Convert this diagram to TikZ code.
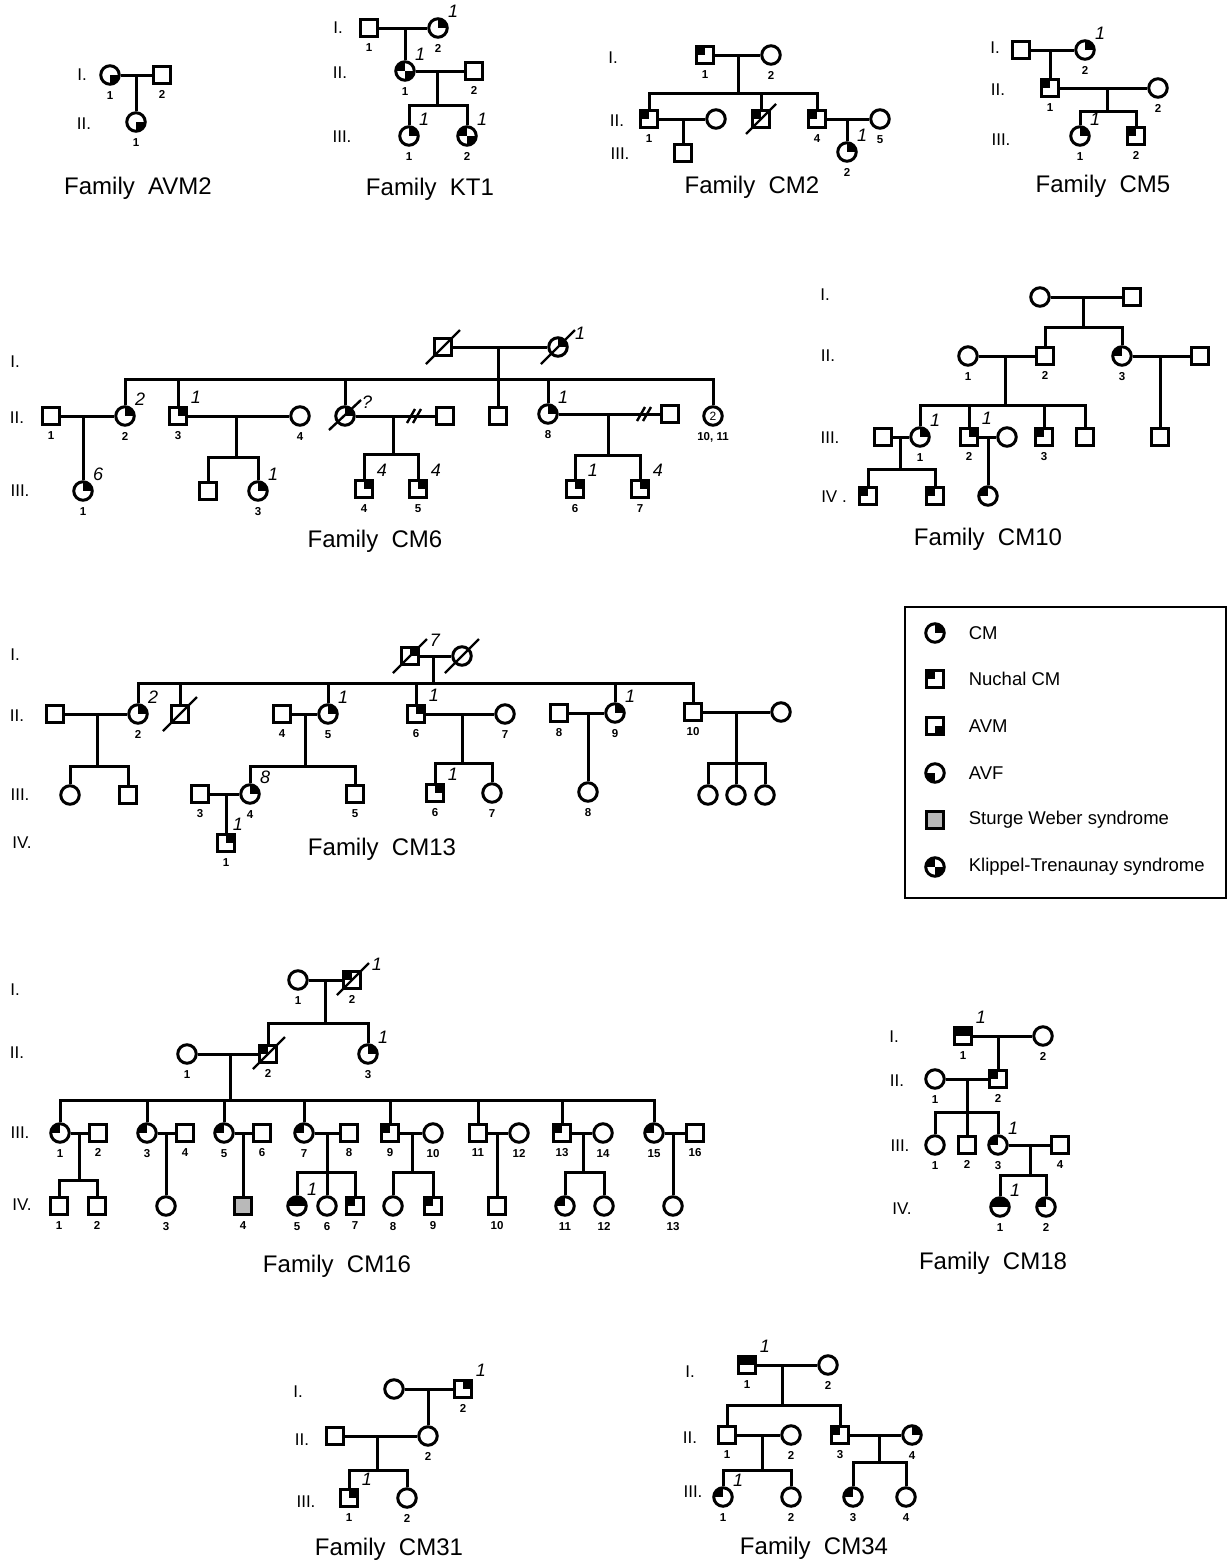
\documentclass[tikz,border=0pt]{standalone}
\usepackage{fontspec}
\setmainfont{Liberation Sans}
\usetikzlibrary{positioning, calc}

\tikzset{
  male/.style={draw, rectangle, minimum size=17.5pt, inner sep=0pt},
  female/.style={draw, circle, minimum size=18.5pt, inner sep=0pt},
  fillne/.style={path picture={\fill (path picture bounding box.center) rectangle (path picture bounding box.north east);}},
  fillnw/.style={path picture={\fill (path picture bounding box.center) rectangle (path picture bounding box.north west);}},
  fillse/.style={path picture={\fill (path picture bounding box.center) rectangle (path picture bounding box.south east);}},
  fillsw/.style={path picture={\fill (path picture bounding box.center) rectangle (path picture bounding box.south west);}},
  fillkt/.style={path picture={\fill (path picture bounding box.center) rectangle (path picture bounding box.north west);
                               \fill (path picture bounding box.center) rectangle (path picture bounding box.south east);}},
  filltop/.style={path picture={\fill (path picture bounding box.west) rectangle (path picture bounding box.north east);}},
  num/.style={font=\fontsize{11.5}{12}\selectfont\bfseries, inner sep=1pt},
  itl/.style={font=\fontsize{18}{18}\selectfont\itshape, inner sep=1pt},
  gen/.style={font=\fontsize{17}{17}\selectfont},
  title/.style={font=\fontsize{24}{24}\selectfont},
  legtext/.style={font=\fontsize{18.5}{20}\selectfont, anchor=west},
  lab/.style={label={[num, label distance=3pt]below:#1}},
  ann/.style={label={[itl]above right:#1}},
  annfar/.style={label={[itl, xshift=7pt, yshift=-3pt]above right:#1}},
  annnear/.style={label={[itl, xshift=-6pt]above right:#1}},
  deadline/.style={line width=2.4pt},
}

\begin{document}
\begin{tikzpicture}[x=1pt, y=-1pt, line width=3pt]
    \useasboundingbox (0,0) rectangle (1228,1564);

    % Family AVM2
    \node[gen] (avmG1) at (82,75) {I.};
    \node[gen] (avmG2) at (84,124) {II.};
    \node[female, fillse, lab=1] (avmI1) at (110,75) {};
    \node[male, lab=2] (avmI2) at (162,75) {};
    \node[female, fillse, lab=1] (avmII1) at (136,122) {};
    \coordinate (avmM) at (136,75);
    \draw (avmI1) -- (avmI2);
    \draw (avmM) -- (avmII1);
    \node[title] (avmT) at (138,188) {Family~~AVM2};

    % Family KT1
    \node[gen] (ktG1) at (338,28) {I.};
    \node[gen] (ktG2) at (340,73) {II.};
    \node[gen] (ktG3) at (342,137) {III.};
    \node[male, lab=1] (ktI1) at (369,28) {};
    \node[female, fillne, lab=2, ann=1] (ktI2) at (438,28) {};
    \node[female, fillkt, lab=1, ann=1] (ktII1) at (405,71) {};
    \node[male, lab=2] (ktII2) at (474,71) {};
    \node[female, fillne, lab=1, ann=1] (ktIII1) at (409,136) {};
    \node[female, fillkt, lab=2, ann=1] (ktIII2) at (467,136) {};
    \coordinate (ktM1) at (405,28);
    \coordinate (ktM2) at (437,71);
    \coordinate (ktS) at (437,105);
    \draw (ktI1) -- (ktI2);
    \draw (ktM1) -- (ktII1);
    \draw (ktII1) -- (ktII2);
    \draw (ktM2) -- (ktS);
    \draw (ktIII1.north) -- (ktIII1.north |- ktS) -| (ktIII2.north);
    \node[title] (ktT) at (430,189) {Family~~KT1};

    % Family CM2
    \node[gen] (c2G1) at (613,58) {I.};
    \node[gen] (c2G2) at (617,121) {II.};
    \node[gen] (c2G3) at (620,154) {III.};
    \node[male, fillnw, lab=1] (c2I1) at (705,55) {};
    \node[female, lab=2] (c2I2) at (771,55) {};
    \node[male, fillnw, lab=1] (c2II1) at (649,119) {};
    \node[female] (c2II2) at (716,119) {};
    \node[male, fillnw] (c2II3) at (761,119) {};
    \node[male, fillnw, lab=4] (c2II4) at (817,119) {};
    \node[female, lab=5] (c2II5) at (880,119) {};
    \node[male] (c2III1) at (683,153) {};
    \node[female, fillne, lab=2, ann=1] (c2III2) at (847,152) {};
    \coordinate (c2M1) at (738,55);
    \coordinate (c2S) at (738,93);
    \coordinate (c2M2) at (683,119);
    \coordinate (c2M3) at (847,119);
    \draw (c2I1) -- (c2I2);
    \draw (c2M1) -- (c2S);
    \draw (c2II1.north) -- (c2II1.north |- c2S) -| (c2II4.north);
    \draw (c2II3.north) -- (c2II3.north |- c2S);
    \draw (c2II1) -- (c2II2);
    \draw (c2M2) -- (c2III1);
    \draw (c2II4) -- (c2II5);
    \draw (c2M3) -- (c2III2);
    \draw[deadline] (c2II3) ++(-15,15) -- ++(30,-30);
    \node[title] (c2T) at (752,187) {Family~~CM2};

    % Family CM5
    \node[gen] (c5G1) at (995,48) {I.};
    \node[gen] (c5G2) at (998,90) {II.};
    \node[gen] (c5G3) at (1001,140) {III.};
    \node[male] (c5I1) at (1021,50) {};
    \node[female, fillne, lab=2, ann=1] (c5I2) at (1085,50) {};
    \node[male, fillnw, lab=1] (c5II1) at (1050,88) {};
    \node[female, lab=2] (c5II2) at (1158,88) {};
    \node[female, fillne, lab=1, ann=1] (c5III1) at (1080,136) {};
    \node[male, fillnw, lab=2] (c5III2) at (1136,136) {};
    \coordinate (c5M1) at (1050,50);
    \coordinate (c5M2) at (1107,88);
    \coordinate (c5S) at (1107,111);
    \draw (c5I1) -- (c5I2);
    \draw (c5M1) -- (c5II1);
    \draw (c5II1) -- (c5II2);
    \draw (c5M2) -- (c5S);
    \draw (c5III1.north) -- (c5III1.north |- c5S) -| (c5III2.north);
    \node[title] (c5T) at (1103,186) {Family~~CM5};

    % Family CM6
    \node[gen] (c6G1) at (15,362) {I.};
    \node[gen] (c6G2) at (17,418) {II.};
    \node[gen] (c6G3) at (20,491) {III.};
    \node[male] (c6I1) at (443,347) {};
    \node[female, fillne, annfar=1] (c6I2) at (558,347) {};
    \node[male, lab=1] (c6II1) at (51,416) {};
    \node[female, fillne, lab=2, ann=2] (c6II2) at (125,416) {};
    \node[male, fillne, lab=3, ann=1] (c6II3) at (178,416) {};
    \node[female, lab=4] (c6II4) at (300,416) {};
    \node[female, fillne, annfar=?] (c6II5) at (345,416) {};
    \node[male] (c6II6) at (445,416) {};
    \node[male] (c6II7) at (498,416) {};
    \node[female, fillne, lab=8, ann=1] (c6II8) at (548,414) {};
    \node[male] (c6II9) at (670,414) {};
    \node[female, font=\fontsize{12}{12}\selectfont, lab={10, 11}] (c6II10) at (713,416) {2};
    \node[female, fillne, lab=1, ann=6] (c6III1) at (83,491) {};
    \node[male] (c6III2) at (208,491) {};
    \node[female, fillne, lab=3, ann=1] (c6III3) at (258,491) {};
    \node[male, fillne, lab=4, ann=4] (c6III4) at (364,489) {};
    \node[male, fillne, lab=5, ann=4] (c6III5) at (418,489) {};
    \node[male, fillne, lab=6, ann=1] (c6III6) at (575,489) {};
    \node[male, fillne, lab=7, ann=4] (c6III7) at (640,489) {};
    \coordinate (c6M1) at (498,347);
    \coordinate (c6S) at (498,379);
    \coordinate (c6M2) at (83,416);
    \coordinate (c6M3) at (236,416);
    \coordinate (c6S3) at (236,457);
    \coordinate (c6M4) at (393,416);
    \coordinate (c6S4) at (393,454);
    \coordinate (c6M5) at (608,414);
    \coordinate (c6S5) at (608,455);
    \draw (c6I1) -- (c6I2);
    \draw (c6M1) -- (c6II7);
    \draw (c6II2.north) -- (c6II2.north |- c6S) -| (c6II10.north);
    \foreach \k in {3,5,8}
        \draw (c6II\k.north) -- (c6II\k.north |- c6S);
    \draw (c6II1) -- (c6II2);
    \draw (c6M2) -- (c6III1);
    \draw (c6II3) -- (c6II4);
    \draw (c6M3) -- (c6S3);
    \draw (c6III2.north) -- (c6III2.north |- c6S3) -| (c6III3.north);
    \draw (c6II5) -- (c6II6);
    \draw (c6M4) -- (c6S4);
    \draw (c6III4.north) -- (c6III4.north |- c6S4) -| (c6III5.north);
    \draw (c6II8) -- (c6II9);
    \draw (c6M5) -- (c6S5);
    \draw (c6III6.north) -- (c6III6.north |- c6S5) -| (c6III7.north);
    % broken unions
    \draw[deadline] (407,423) -- (415,409);
    \draw[deadline] (413,423) -- (421,409);
    \draw[deadline] (637,421) -- (645,407);
    \draw[deadline] (643,421) -- (651,407);
    % deceased
    \draw[deadline] (c6I1) ++(-17,17) -- ++(34,-34);
    \draw[deadline] (c6I2) ++(-17,17) -- ++(34,-34);
    \draw[deadline] (c6II5) ++(-16,14) -- ++(32,-30);
    \node[title] (c6T) at (375,541) {Family~~CM6};

    % Family CM10
    \node[gen] (c10G1) at (825,295) {I.};
    \node[gen] (c10G2) at (828,356) {II.};
    \node[gen] (c10G3) at (830,438) {III.};
    \node[gen] (c10G4) at (834,497) {IV .};
    \node[female] (c10I1) at (1040,297) {};
    \node[male] (c10I2) at (1132,297) {};
    \node[female, lab=1] (c10II1) at (968,356) {};
    \node[male, lab=2] (c10II2) at (1045,356) {};
    \node[female, fillnw, lab=3] (c10II3) at (1122,356) {};
    \node[male] (c10II4) at (1200,356) {};
    \node[male] (c10III0) at (883,437) {};
    \node[female, fillne, lab=1, ann=1] (c10III1) at (920,437) {};
    \node[male, fillne, lab=2, ann=1] (c10III2) at (969,437) {};
    \node[female] (c10III2w) at (1007,437) {};
    \node[male, fillnw, lab=3] (c10III3) at (1044,437) {};
    \node[male] (c10III4) at (1085,437) {};
    \node[male] (c10III5) at (1160,437) {};
    \node[male, fillnw] (c10IV1) at (868,496) {};
    \node[male, fillnw] (c10IV2) at (935,496) {};
    \node[female, fillnw] (c10IV3) at (988,496) {};
    \coordinate (c10M1) at (1083,297);
    \coordinate (c10S1) at (1083,327);
    \coordinate (c10M2) at (1005,356);
    \coordinate (c10S2) at (1005,405);
    \coordinate (c10M3) at (1160,356);
    \coordinate (c10M4) at (900,437);
    \coordinate (c10S4) at (900,469);
    \coordinate (c10M5) at (988,437);
    \draw (c10I1) -- (c10I2);
    \draw (c10M1) -- (c10S1);
    \draw (c10II2.north) -- (c10II2.north |- c10S1) -| (c10II3.north);
    \draw (c10II1) -- (c10II2);
    \draw (c10M2) -- (c10S2);
    \draw (c10III1.north) -- (c10III1.north |- c10S2) -| (c10III4.north);
    \foreach \k in {2,3}
        \draw (c10III\k.north) -- (c10III\k.north |- c10S2);
    \draw (c10II3) -- (c10II4);
    \draw (c10M3) -- (c10III5);
    \draw (c10III0) -- (c10III1);
    \draw (c10M4) -- (c10S4);
    \draw (c10IV1.north) -- (c10IV1.north |- c10S4) -| (c10IV2.north);
    \draw (c10III2) -- (c10III2w);
    \draw (c10M5) -- (c10IV3);
    \node[title] (c10T) at (988,539) {Family~~CM10};

    % Legend
    \draw[line width=1.3pt] (905,607) rectangle (1226,898);
    \node[female, fillne] (legCM) at (935,633) {};
    \node[male, fillnw] (legNU) at (935,679) {};
    \node[male, fillse] (legAVM) at (935,726) {};
    \node[female, fillsw] (legAVF) at (935,773) {};
    \node[male, fill=gray!55] (legSW) at (935,820) {};
    \node[female, fillkt] (legKT) at (935,867) {};
    \node[legtext] (legCMt) at (964,633) {CM};
    \node[legtext] (legNUt) at (964,679) {Nuchal CM};
    \node[legtext] (legAVMt) at (964,726) {AVM};
    \node[legtext] (legAVFt) at (964,773) {AVF};
    \node[legtext] (legSWt) at (964,820) {Sturge Weber syndrome};
    \node[legtext] (legKTt) at (964,867) {Klippel-Trenaunay syndrome};

    % Family CM13
    \node[gen] (c13G1) at (15,655) {I.};
    \node[gen] (c13G2) at (17,716) {II.};
    \node[gen] (c13G3) at (20,795) {III.};
    \node[gen] (c13G4) at (22,843) {IV.};
    \node[male, fillne, annfar=7] (c13I1) at (410,656) {};
    \node[female] (c13I2) at (462,656) {};
    \node[male] (c13II1) at (55,714) {};
    \node[female, fillne, lab=2, ann=2] (c13II2) at (138,714) {};
    \node[male] (c13II3) at (180,714) {};
    \node[male, lab=4] (c13II4) at (282,714) {};
    \node[female, fillne, lab=5, ann=1] (c13II5) at (328,714) {};
    \node[male, fillne, lab=6, ann=1] (c13II6) at (416,714) {};
    \node[female, lab=7] (c13II7) at (505,714) {};
    \node[male, lab=8] (c13II8) at (559,713) {};
    \node[female, fillne, lab=9, ann=1] (c13II9) at (615,713) {};
    \node[male, lab=10] (c13II10) at (693,712) {};
    \node[female] (c13II11) at (781,712) {};
    \node[female] (c13IIIa) at (70,795) {};
    \node[male] (c13IIIb) at (128,795) {};
    \node[male, lab=3] (c13III3) at (200,794) {};
    \node[female, fillne, lab=4, ann=8] (c13III4) at (250,794) {};
    \node[male, lab=5] (c13III5) at (355,794) {};
    \node[male, fillne, lab=6, ann=1] (c13III6) at (435,793) {};
    \node[female, lab=7] (c13III7) at (492,793) {};
    \node[female, lab=8] (c13III8) at (588,792) {};
    \node[female] (c13IIIc) at (708,795) {};
    \node[female] (c13IIId) at (736,795) {};
    \node[female] (c13IIIe) at (765,795) {};
    \node[male, fillne, lab=1, annnear=1] (c13IV1) at (226,843) {};
    \coordinate (c13M1) at (433,656);
    \coordinate (c13S1) at (433,683);
    \coordinate (c13M2) at (97,714);
    \coordinate (c13S2) at (97,766);
    \coordinate (c13M3) at (305,714);
    \coordinate (c13S3) at (305,766);
    \coordinate (c13M4) at (226,794);
    \coordinate (c13M5) at (462,714);
    \coordinate (c13S5) at (462,763);
    \coordinate (c13M6) at (588,713);
    \coordinate (c13M7) at (736,712);
    \coordinate (c13S7) at (736,763);
    \draw (c13I1) -- (c13I2);
    \draw (c13M1) -- (c13S1);
    \draw (c13II2.north) -- (c13II2.north |- c13S1) -| (c13II10.north);
    \foreach \k in {3,5,6,9}
        \draw (c13II\k.north) -- (c13II\k.north |- c13S1);
    \draw (c13II1) -- (c13II2);
    \draw (c13M2) -- (c13S2);
    \draw (c13IIIa.north) -- (c13IIIa.north |- c13S2) -| (c13IIIb.north);
    \draw (c13II4) -- (c13II5);
    \draw (c13M3) -- (c13S3);
    \draw (c13III4.north) -- (c13III4.north |- c13S3) -| (c13III5.north);
    \draw (c13III3) -- (c13III4);
    \draw (c13M4) -- (c13IV1);
    \draw (c13II6) -- (c13II7);
    \draw (c13M5) -- (c13S5);
    \draw (c13III6.north) -- (c13III6.north |- c13S5) -| (c13III7.north);
    \draw (c13II8) -- (c13II9);
    \draw (c13M6) -- (c13III8);
    \draw (c13II10) -- (c13II11);
    \draw (c13M7) -- (c13S7);
    \draw (c13IIIc.north) -- (c13IIIc.north |- c13S7) -| (c13IIIe.north);
    \draw (c13IIId.north) -- (c13IIId.north |- c13S7);
    \draw[deadline] (c13I1) ++(-17,17) -- ++(34,-34);
    \draw[deadline] (c13I2) ++(-17,17) -- ++(34,-34);
    \draw[deadline] (c13II3) ++(-17,17) -- ++(34,-34);
    \node[title] (c13T) at (382,849) {Family~~CM13};

    % Family CM16
    \node[gen] (c16G1) at (15,990) {I.};
    \node[gen] (c16G2) at (17,1053) {II.};
    \node[gen] (c16G3) at (20,1133) {III.};
    \node[gen] (c16G4) at (22,1205) {IV.};
    \node[female, lab=1] (c16I1) at (298,980) {};
    \node[male, fillnw, lab=2, annfar=1] (c16I2) at (352,980) {};
    \node[female, lab=1] (c16II1) at (187,1054) {};
    \node[male, fillnw, lab=2] (c16II2) at (268,1054) {};
    \node[female, fillne, lab=3, ann=1] (c16II3) at (368,1054) {};
    \foreach \k/\xx in {1/60,3/147,5/224,7/304,15/654}
        \node[female, fillnw, lab=\k] (c16III\k) at (\xx,1133) {};
    \foreach \k/\xx in {2/98,4/185,6/262,8/349,11/478,16/695}
        \node[male, lab=\k] (c16III\k) at (\xx,1133) {};
    \foreach \k/\xx in {10/433,12/519,14/603}
        \node[female, lab=\k] (c16III\k) at (\xx,1133) {};
    \node[male, fillnw, lab=9] (c16III9) at (390,1133) {};
    \node[male, fillnw, lab=13] (c16III13) at (562,1133) {};
    \node[male, lab=1] (c16IV1) at (59,1206) {};
    \node[male, lab=2] (c16IV2) at (97,1206) {};
    \node[female, lab=3] (c16IV3) at (166,1206) {};
    \node[male, fill=gray!55, lab=4] (c16IV4) at (243,1206) {};
    \node[female, filltop, lab=5, ann=1] (c16IV5) at (297,1206) {};
    \node[female, lab=6] (c16IV6) at (327,1206) {};
    \node[male, fillnw, lab=7] (c16IV7) at (355,1206) {};
    \node[female, lab=8] (c16IV8) at (393,1206) {};
    \node[male, fillnw, lab=9] (c16IV9) at (433,1206) {};
    \node[male, lab=10] (c16IV10) at (497,1206) {};
    \node[female, fillnw, lab=11] (c16IV11) at (565,1206) {};
    \node[female, lab=12] (c16IV12) at (604,1206) {};
    \node[female, lab=13] (c16IV13) at (673,1206) {};
    \coordinate (c16M1) at (325,980);
    \coordinate (c16S1) at (325,1023);
    \coordinate (c16M2) at (230,1054);
    \coordinate (c16S2) at (230,1100);
    \draw (c16I1) -- (c16I2);
    \draw (c16M1) -- (c16S1);
    \draw (c16II2.north) -- (c16II2.north |- c16S1) -| (c16II3.north);
    \draw (c16II1) -- (c16II2);
    \draw (c16M2) -- (c16S2);
    \draw (c16III1.north) -- (c16III1.north |- c16S2) -| (c16III15.north);
    \foreach \k in {3,5,7,9,11,13}
        \draw (c16III\k.north) -- (c16III\k.north |- c16S2);
    \foreach \a/\b in {1/2,3/4,5/6,7/8,9/10,11/12,13/14,15/16}
        \draw (c16III\a) -- (c16III\b);
    % families of the third generation
    \coordinate (c16Ma) at (79,1133);
    \coordinate (c16Sa) at (79,1180);
    \draw (c16Ma) -- (c16Sa);
    \draw (c16IV1.north) -- (c16IV1.north |- c16Sa) -| (c16IV2.north);
    \coordinate (c16Mb) at (166,1133);
    \draw (c16Mb) -- (c16IV3);
    \coordinate (c16Mc) at (243,1133);
    \draw (c16Mc) -- (c16IV4);
    \coordinate (c16Md) at (327,1133);
    \coordinate (c16Sd) at (327,1172);
    \draw (c16Md) -- (c16IV6);
    \draw (c16IV5.north) -- (c16IV5.north |- c16Sd) -| (c16IV7.north);
    \coordinate (c16Me) at (412,1133);
    \coordinate (c16Se) at (412,1172);
    \draw (c16Me) -- (c16Se);
    \draw (c16IV8.north) -- (c16IV8.north |- c16Se) -| (c16IV9.north);
    \coordinate (c16Mf) at (497,1133);
    \draw (c16Mf) -- (c16IV10);
    \coordinate (c16Mg) at (583,1133);
    \coordinate (c16Sg) at (583,1172);
    \draw (c16Mg) -- (c16Sg);
    \draw (c16IV11.north) -- (c16IV11.north |- c16Sg) -| (c16IV12.north);
    \coordinate (c16Mh) at (673,1133);
    \draw (c16Mh) -- (c16IV13);
    \draw[deadline] (c16I2) ++(-15,15) -- ++(32,-32);
    \draw[deadline] (c16II2) ++(-15,15) -- ++(32,-32);
    \node[title] (c16T) at (337,1266) {Family~~CM16};

    % Family CM18
    \node[gen] (c18G1) at (894,1037) {I.};
    \node[gen] (c18G2) at (897,1081) {II.};
    \node[gen] (c18G3) at (900,1146) {III.};
    \node[gen] (c18G4) at (902,1209) {IV.};
    \node[male, filltop, lab=1, ann=1] (c18I1) at (963,1036) {};
    \node[female, lab=2] (c18I2) at (1043,1036) {};
    \node[female, lab=1] (c18II1) at (935,1079) {};
    \node[male, fillnw, lab=2] (c18II2) at (998,1079) {};
    \node[female, lab=1] (c18III1) at (935,1145) {};
    \node[male, lab=2] (c18III2) at (967,1145) {};
    \node[female, fillnw, lab=3, ann=1] (c18III3) at (998,1145) {};
    \node[male, lab=4] (c18III4) at (1060,1145) {};
    \node[female, filltop, lab=1, ann=1] (c18IV1) at (1000,1207) {};
    \node[female, fillnw, lab=2] (c18IV2) at (1046,1207) {};
    \coordinate (c18M1) at (998,1036);
    \coordinate (c18M2) at (967,1079);
    \coordinate (c18S2) at (967,1112);
    \coordinate (c18M3) at (1030,1145);
    \coordinate (c18S3) at (1030,1175);
    \draw (c18I1) -- (c18I2);
    \draw (c18M1) -- (c18II2);
    \draw (c18II1) -- (c18II2);
    \draw (c18M2) -- (c18III2);
    \draw (c18III1.north) -- (c18III1.north |- c18S2) -| (c18III3.north);
    \draw (c18III3) -- (c18III4);
    \draw (c18M3) -- (c18S3);
    \draw (c18IV1.north) -- (c18IV1.north |- c18S3) -| (c18IV2.north);
    \node[title] (c18T) at (993,1263) {Family~~CM18};

    % Family CM31
    \node[gen] (c31G1) at (298,1392) {I.};
    \node[gen] (c31G2) at (302,1440) {II.};
    \node[gen] (c31G3) at (306,1502) {III.};
    \node[female] (c31I1) at (394,1389) {};
    \node[male, fillne, lab=2, ann=1] (c31I2) at (463,1389) {};
    \node[male] (c31II1) at (335,1436) {};
    \node[female, lab=2] (c31II2) at (428,1436) {};
    \node[male, fillne, lab=1, ann=1] (c31III1) at (349,1498) {};
    \node[female, lab=2] (c31III2) at (407,1498) {};
    \coordinate (c31M1) at (428,1389);
    \coordinate (c31M2) at (377,1436);
    \coordinate (c31S2) at (377,1470);
    \draw (c31I1) -- (c31I2);
    \draw (c31M1) -- (c31II2);
    \draw (c31II1) -- (c31II2);
    \draw (c31M2) -- (c31S2);
    \draw (c31III1.north) -- (c31III1.north |- c31S2) -| (c31III2.north);
    \node[title] (c31T) at (389,1549) {Family~~CM31};

    % Family CM34
    \node[gen] (c34G1) at (690,1372) {I.};
    \node[gen] (c34G2) at (690,1438) {II.};
    \node[gen] (c34G3) at (693,1492) {III.};
    \node[male, filltop, lab=1, ann=1] (c34I1) at (747,1365) {};
    \node[female, lab=2] (c34I2) at (828,1365) {};
    \node[male, lab=1] (c34II1) at (727,1435) {};
    \node[female, lab=2] (c34II2) at (791,1435) {};
    \node[male, fillnw, lab=3] (c34II3) at (840,1435) {};
    \node[female, fillne, lab=4] (c34II4) at (912,1435) {};
    \node[female, fillnw, lab=1, ann=1] (c34III1) at (723,1497) {};
    \node[female, lab=2] (c34III2) at (791,1497) {};
    \node[female, fillnw, lab=3] (c34III3) at (853,1497) {};
    \node[female, lab=4] (c34III4) at (906,1497) {};
    \coordinate (c34M1) at (782,1365);
    \coordinate (c34S1) at (782,1405);
    \coordinate (c34M2) at (762,1435);
    \coordinate (c34S2) at (762,1470);
    \coordinate (c34M3) at (879,1435);
    \coordinate (c34S3) at (879,1462);
    \draw (c34I1) -- (c34I2);
    \draw (c34M1) -- (c34S1);
    \draw (c34II1.north) -- (c34II1.north |- c34S1) -| (c34II3.north);
    \draw (c34II1) -- (c34II2);
    \draw (c34M2) -- (c34S2);
    \draw (c34III1.north) -- (c34III1.north |- c34S2) -| (c34III2.north);
    \draw (c34II3) -- (c34II4);
    \draw (c34M3) -- (c34S3);
    \draw (c34III3.north) -- (c34III3.north |- c34S3) -| (c34III4.north);
    \node[title] (c34T) at (814,1548) {Family~~CM34};
\end{tikzpicture}
\end{document}
